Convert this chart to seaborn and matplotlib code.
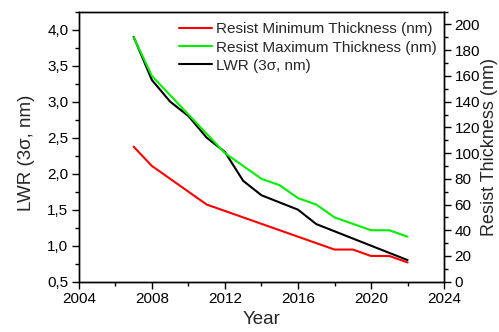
import numpy as np
import pandas as pd
import matplotlib
matplotlib.use("Agg")
import matplotlib.pyplot as plt
import seaborn as sns
from matplotlib.ticker import MultipleLocator, FuncFormatter

years = [2007, 2008, 2009, 2010, 2011, 2012, 2013, 2014, 2015, 2016, 2017, 2018, 2019, 2020, 2021, 2022]
lwr = [3.9, 3.3, 3.0, 2.8, 2.5, 2.3, 1.9, 1.7, 1.6, 1.5, 1.3, 1.2, 1.1, 1.0, 0.9, 0.8]
min_thick = [105, 90, 80, 70, 60, 55, 50, 45, 40, 35, 30, 25, 25, 20, 20, 15]
max_thick = [190, 160, 145, 130, 115, 100, 90, 80, 75, 65, 60, 50, 45, 40, 40, 35]

labels = ["Resist Minimum Thickness (nm)", "Resist Maximum Thickness (nm)", "LWR (3\u03c3, nm)"]

sns.set_style("ticks")
plt.rcParams['font.family'] = ['Liberation Sans', 'DejaVu Sans']

fig = plt.figure(figsize=(4.99, 3.32), dpi=100)
ax = fig.add_axes([0.158, 0.1515, 0.732, 0.8135])
ax2 = ax.twinx()

df = pd.DataFrame({"Year": years, "LWR": lwr, "Min": min_thick, "Max": max_thick})

sns.lineplot(data=df, x="Year", y="Min", ax=ax2, color="#ff0000", lw=1.5, label=labels[0], legend=False)
sns.lineplot(data=df, x="Year", y="Max", ax=ax2, color="#00ee00", lw=1.5, label=labels[1], legend=False)
sns.lineplot(data=df, x="Year", y="LWR", ax=ax, color="black", lw=1.5, label=labels[2], legend=False)

ax.set_xlim(2004, 2024)
ax.set_ylim(0.5, 4.25)
ax2.set_ylim(0, 210)

comma = FuncFormatter(lambda v, p: f"{v:.1f}".replace(".", ","))
ax.xaxis.set_major_locator(MultipleLocator(4))
ax.xaxis.set_minor_locator(MultipleLocator(2))
ax.yaxis.set_major_locator(MultipleLocator(0.5))
ax.yaxis.set_minor_locator(MultipleLocator(0.25))
ax.yaxis.set_major_formatter(comma)
ax2.yaxis.set_major_locator(MultipleLocator(20))
ax2.yaxis.set_minor_locator(MultipleLocator(10))

for a in (ax, ax2):
    a.tick_params(which='major', length=5, width=1, direction='out', labelsize=11, color='black',
                  labelcolor='black', pad=2.5)
    a.tick_params(which='minor', length=3, width=1, direction='out', color='black')
    for s in a.spines.values():
        s.set_visible(True)
        s.set_color('black')
        s.set_linewidth(1)

ax.set_xlabel("Year", fontsize=13.5)
ax.set_ylabel("LWR (3\u03c3, nm)", fontsize=13.5)
ax2.set_ylabel("Resist Thickness (nm)", fontsize=13)
ax.xaxis.set_label_coords(0.5, -0.108)
ax.yaxis.set_label_coords(-0.12, 0.478)
ax2.yaxis.set_label_coords(1.1, 0.5)

h1, l1 = ax2.get_legend_handles_labels()
h2, l2 = ax.get_legend_handles_labels()
ax2.legend(h1 + h2, l1 + l2, loc='upper left', bbox_to_anchor=(0.274, 0.96), frameon=False,
           fontsize=11, handlelength=2.15, handletextpad=0.3, labelspacing=0.27,
           borderaxespad=0, borderpad=0)

fig.savefig("out.png", dpi=100)
